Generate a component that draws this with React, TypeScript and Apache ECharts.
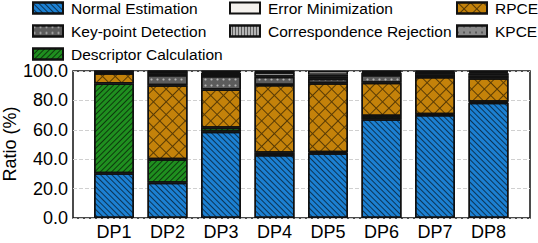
import React, { useEffect, useRef } from "react";
import * as echarts from "echarts";

const categories = ["DP1", "DP2", "DP3", "DP4", "DP5", "DP6", "DP7", "DP8"];
const normalEstimation = [30.4, 24.0, 58.7, 42.9, 44.0, 67.1, 70.1, 78.4];
const descriptorCalculation = [61.1, 16.0, 2.7, 1.5, 0.8, 2.3, 0.4, 0.6];
const rpce = [6.9, 50.3, 26.1, 46.1, 46.8, 22.6, 25.4, 16.0];
const keypointDetection = [0.6, 7.0, 9.1, 5.6, 3.2, 5.3, 1.5, 2.0];
const kpce = [0.5, 2.2, 2.0, 3.0, 1.5, 1.5, 1.5, 1.5];
const correspondenceRejection = [0.3, 0.3, 1.0, 0.6, 1.2, 0.8, 0.6, 1.0];
const errorMinimization = [0.2, 0.2, 0.4, 0.3, 2.5, 0.4, 0.5, 0.5];
const yAxisTitle = "Ratio (%)";

const FONT = "'Liberation Sans', Arial, sans-serif";

const crossRows: number[][] = [[9, 0]];
for (let i = 0; i < 8; i++) crossRows.push([1, 8]);

export default function App() {
  const ref = useRef<HTMLDivElement>(null);
  useEffect(() => {
    document.body.style.margin = "0";
    if (!ref.current) return;
    const chart = echarts.init(ref.current, null, { renderer: "svg" });
    const border = { borderColor: "#111", borderWidth: 1.5 };
    const mk = (name: string, data: number[], color: string, decal?: any) => ({
      name,
      type: "bar",
      stack: "total",
      barWidth: 40,
      xAxisIndex: 1,
      yAxisIndex: 1,
      data,
      itemStyle: { color, ...border, ...(decal ? { decal } : {}) },
    });
    const series = [
      mk("Normal Estimation", normalEstimation, "#1c80d2", {
        symbol: "rect",
        color: "rgba(0,0,0,0.6)",
        dashArrayX: [1, 0],
        dashArrayY: [1, 2.5],
        rotation: Math.PI / 4,
      }),
      mk("Descriptor Calculation", descriptorCalculation, "#1f8f1f", {
        symbol: "rect",
        color: "rgba(0,0,0,0.6)",
        dashArrayX: [1, 0],
        dashArrayY: [1, 2.5],
        rotation: -Math.PI / 4,
      }),
      mk("RPCE", rpce, "#c4820a", {
        symbol: "rect",
        color: "rgba(0,0,0,0.55)",
        dashArrayX: crossRows,
        dashArrayY: [1, 0],
        rotation: Math.PI / 4,
      }),
      mk("Key-point Detection", keypointDetection, "#5c5c5c", {
        symbol: "circle",
        color: "rgba(190,190,190,0.9)",
        symbolSize: 0.7,
        dashArrayX: [3, 3],
        dashArrayY: [3, 3],
      }),
      mk("KPCE", kpce, "#8a8a8a", {
        symbol: "circle",
        color: "rgba(40,40,40,0.8)",
        symbolSize: 0.8,
        dashArrayX: [2, 4],
        dashArrayY: [2, 4],
      }),
      mk("Correspondence Rejection", correspondenceRejection, "#b4b4b4", {
        symbol: "rect",
        color: "rgba(0,0,0,0.5)",
        dashArrayX: [1, 0],
        dashArrayY: [1, 1.5],
        rotation: Math.PI / 2,
      }),
      mk("Error Minimization", errorMinimization, "#f5f2ee"),
    ];
    const legendBase = {
      orient: "vertical",
      top: 0,
      padding: 0,
      itemWidth: 30,
      itemHeight: 11,
      itemGap: 7,
      selectedMode: false,
      icon: "rect",
      textStyle: { fontSize: 15.5, color: "#000", fontFamily: FONT, lineHeight: 15, padding: [0, 0, 0, 3] },
    };
    chart.setOption({
      animation: false,
      textStyle: { fontFamily: FONT },
      grid: [
        {
          left: 73,
          right: 8,
          top: 71,
          bottom: 25,
          show: true,
          borderColor: "#111",
          borderWidth: 1.5,
          backgroundColor: "transparent",
          outerBoundsMode: "none",
        },
        {
          left: 87.25,
          right: 22.75,
          top: 71,
          bottom: 25,
          outerBoundsMode: "none",
        },
      ],
      graphic: [
        {
          type: "text",
          x: 10,
          y: 144,
          rotation: Math.PI / 2,
          style: {
            text: yAxisTitle,
            fontSize: 18,
            fontFamily: FONT,
            fill: "#000",
            align: "center",
            verticalAlign: "middle",
          },
        },
      ],
      legend: [
        { ...legendBase, left: 32, data: ["Normal Estimation", "Key-point Detection", "Descriptor Calculation"] },
        { ...legendBase, left: 229, data: ["Error Minimization", "Correspondence Rejection"] },
        { ...legendBase, left: 456, data: ["RPCE", "KPCE"] },
      ],
      xAxis: [
        {
          gridIndex: 0,
          type: "value",
          min: 0,
          max: 1,
          show: false,
        },
        {
          gridIndex: 1,
          type: "category",
          data: categories,
          axisLine: { show: false },
          axisTick: { show: false },
          splitLine: { show: false },
          axisLabel: { fontSize: 18, color: "#000", fontFamily: FONT, margin: 5 },
        },
      ],
      yAxis: [
        {
          gridIndex: 0,
          type: "value",
          min: 0,
          max: 100,
          interval: 20,
          axisLine: { show: false },
          axisTick: { show: false },
          axisLabel: {
            formatter: (v: number) => v.toFixed(1),
            fontSize: 18,
            color: "#000",
            fontFamily: FONT,
            margin: 5,
          },
          splitLine: { show: true, lineStyle: { color: "#d0d0d0", type: [4, 2], width: 1 } },
        },
        {
          gridIndex: 1,
          type: "value",
          min: 0,
          max: 100,
          show: false,
          splitLine: { show: false },
        },
      ],
      series,
    });
    return () => chart.dispose();
  }, []);
  return <div ref={ref} style={{ width: 538, height: 243 }} />;
}
